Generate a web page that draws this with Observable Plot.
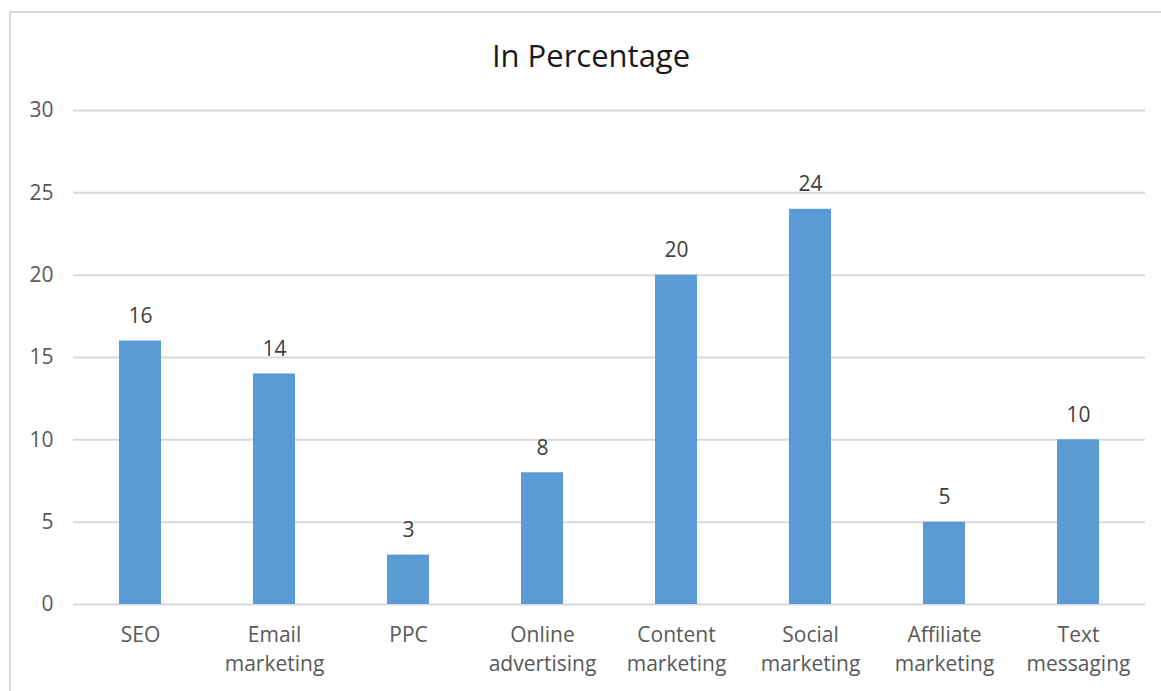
<!DOCTYPE html>
<html>
<head>
<meta charset="utf-8">
<script src="https://cdn.jsdelivr.net/npm/d3@7"></script>
<script src="https://cdn.jsdelivr.net/npm/@observablehq/plot@0.6"></script>
<style>
  html, body { margin: 0; padding: 0; background: #fff; overflow: hidden; }
  #frame { position: absolute; left: 9px; top: 11px; width: 1180px; height: 720px; border: 2px solid #d9d9d9; box-sizing: border-box; }
  #chart { position: absolute; left: 0; top: 0; width: 1161px; }
  #title { height: 85px; line-height: 111px; padding-left: 21px; width: 1140px; text-align: center; font-family: "Open Sans", sans-serif; font-size: 31px; color: #1a1a1a; overflow: visible; white-space: nowrap; }
  svg { display: block; }
</style>
</head>
<body>
<div id="frame"></div>
<div id="chart"><div id="title">In Percentage</div></div>
<script>
const categories = ["SEO", "Email\nmarketing", "PPC", "Online\nadvertising", "Content\nmarketing", "Social\nmarketing", "Affiliate\nmarketing", "Text\nmessaging"];
const values = [16, 14, 3, 8, 20, 24, 5, 10];
const yTicks = [0, 5, 10, 15, 20, 25, 30];

const data = categories.map((c, i) => ({category: c, value: values[i]}));

const chart = Plot.plot({
  width: 1161,
  height: 606,
  marginTop: 25,
  marginBottom: 87,
  marginLeft: 73,
  marginRight: 16,
  style: {fontFamily: "'Open Sans', sans-serif", fontSize: "21px", color: "#595959", background: "transparent"},
  x: {domain: categories, paddingInner: 0.687, paddingOuter: 0.343, label: null},
  y: {domain: [0, 30], label: null},
  marks: [
    Plot.gridY(yTicks, {stroke: "#d9d9d9", strokeOpacity: 1, strokeWidth: 2}),
    Plot.barY(data, {x: "category", y: "value", fill: "#5b9bd5"}),
    Plot.text(data, {x: "category", y: "value", text: d => String(d.value), dy: -25, fontSize: 21, fill: "#404040"}),
    Plot.axisY(yTicks, {tickSize: 0, tickPadding: 20, fontSize: 21, fill: "#595959", label: null}),
    Plot.axisX({tickSize: 0, tickPadding: 17, fontSize: 21, fill: "#595959", lineHeight: 1.38, label: null})
  ]
});
document.getElementById("chart").appendChild(chart);
</script>
</body>
</html>
